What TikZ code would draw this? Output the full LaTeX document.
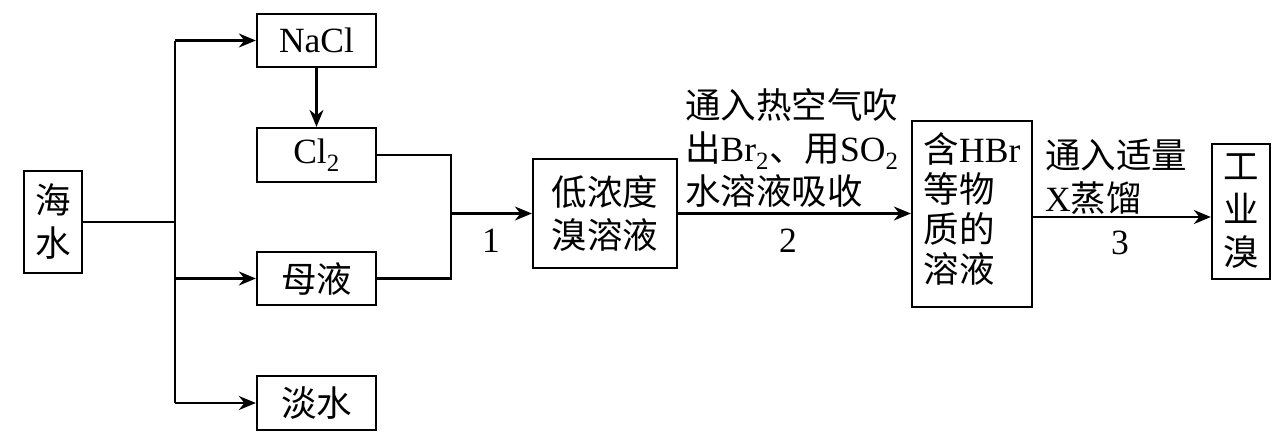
\documentclass[tikz,border=0pt]{standalone}
\usepackage{fontspec}
\setmainfont{Liberation Serif}
\newfontfamily\cjk{Noto Sans CJK SC}
\usetikzlibrary{arrows.meta}
\newcommand{\zh}[1]{{\cjk #1}}
\begin{document}
\begin{tikzpicture}[x=1pt,y=-1pt,
  every node/.style={font=\fontsize{35.5}{43}\selectfont},
  box/.style={draw,line width=2.3pt,inner sep=0pt,align=center},
  lab/.style={inner sep=0pt,align=left},
  conn/.style={line width=2.3pt},
  arr/.style={conn,-{Stealth[length=17pt,width=14pt]}}]
\useasboundingbox (0,0) rectangle (1275,447);
\node[box,minimum width=58pt,minimum height=102pt] (sea) at (53,222) {\zh{海}\\\zh{水}};
\node[box,minimum width=119pt,minimum height=53pt] (nacl) at (316.5,40.5) {NaCl};
\node[box,minimum width=119pt,minimum height=54pt] (cl2) at (316.5,155) {Cl\textsubscript{2}};
\node[box,minimum width=119pt,minimum height=53pt] (mu) at (316.5,278.5) {\zh{母液}};
\node[box,minimum width=119pt,minimum height=54pt] (dan) at (316.5,403) {\zh{淡水}};
\node[box,minimum width=144pt,minimum height=109pt] (low) at (605,213.5) {\zh{低浓度}\\\zh{溴溶液}};
\node[box,minimum width=120pt,minimum height=186pt] (hbr) at (972,214) {\begin{tabular}{@{}l@{}}\zh{含}HBr\\[-3pt]\zh{等物}\\[-3pt]\zh{质的}\\[-3pt]\zh{溶液}\end{tabular}};
\node[box,minimum width=58pt,minimum height=135pt] (ind) at (1241,211.5) {\zh{工}\\\zh{业}\\\zh{溴}};
\coordinate (jm) at (175,222);
\coordinate (jt) at (175,40.5);
\coordinate (ju) at (175,278.5);
\coordinate (jb) at (175,403);
\coordinate (mr) at (451,213.5);
\draw[conn] (sea.east) -- (jm);
\draw[conn] (jt) -- (jb);
\draw[arr] (jt) -- (nacl.west);
\draw[arr] (ju) -- (mu.west);
\draw[arr] (jb) -- (dan.west);
\draw[arr] (nacl.south) -- (cl2.north);
\draw[conn] (cl2.east) -| (mr) |- (mu.east);
\draw[arr] (mr) -- (low.west);
\draw[arr] (low.east) -- (low.east -| hbr.west);
\draw[arr] (hbr.east |- 0,217) -- (ind.west |- 0,217);
\node[lab] (n1) at (491,241) {1};
\node[lab] (n2) at (788,241) {2};
\node[lab] (n3) at (1120,243) {3};
\node[lab,anchor=west] (t2) at (685,148) {\zh{通入热空气吹}\\\zh{出}Br\textsubscript{2}\zh{、用}SO\textsubscript{2}\\\zh{水溶液吸收}};
\node[lab,anchor=west] (t3) at (1045,177) {\zh{通入适量}\\X\zh{蒸馏}};
\end{tikzpicture}
\end{document}
